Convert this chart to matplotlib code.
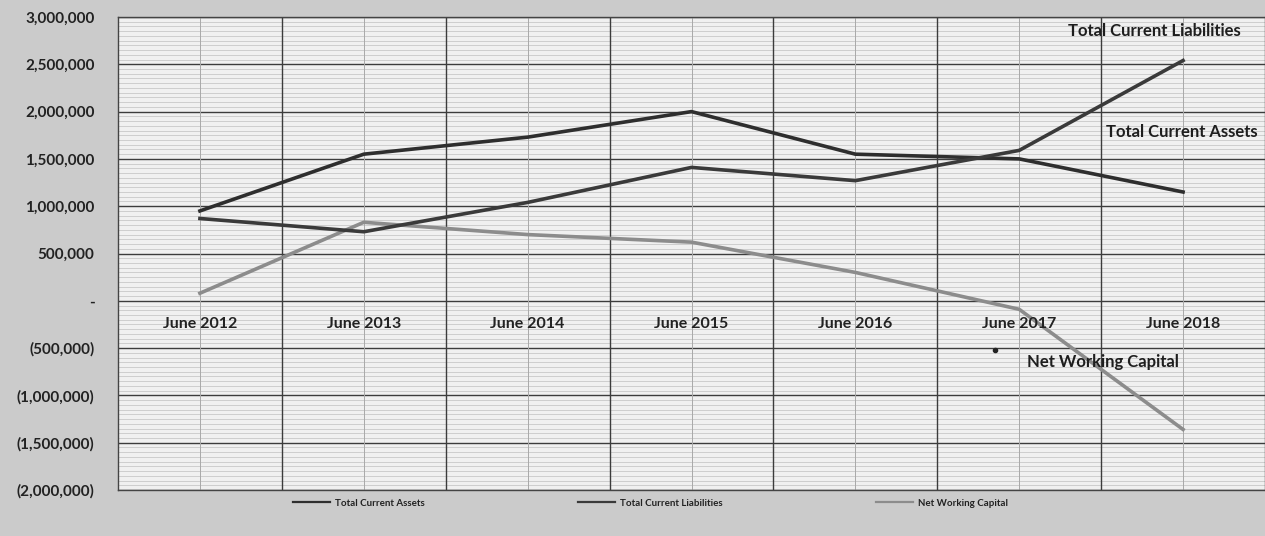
import matplotlib
matplotlib.use("Agg")
import matplotlib.pyplot as plt
from matplotlib.ticker import FixedLocator, MultipleLocator, FuncFormatter

# data
years = ["June 2012", "June 2013", "June 2014", "June 2015",
         "June 2016", "June 2017", "June 2018"]
current_assets = [950000, 1550000, 1730000, 2000000, 1550000, 1500000, 1150000]
current_liabilities = [870000, 730000, 1040000, 1410000, 1270000, 1590000, 2540000]
net_working_capital = [80000, 830000, 700000, 620000, 300000, -90000, -1360000]

plt.rcParams['font.family'] = ['Lato', 'DejaVu Sans']


def fmt_money(v, pos=None):
    if v == 0:
        return "-"
    if v < 0:
        return "({:,.0f})".format(-v)
    return "{:,.0f}".format(v)


fig = plt.figure(figsize=(12.65, 5.36), dpi=100, facecolor="#cbcbcb")
ax = fig.add_axes([118 / 1265, 1 - 490 / 536, 1 - 118 / 1265, (490 - 17) / 536])
ax.set_facecolor("#f0f0f0")

x = list(range(len(years)))
ax.plot(x, current_assets, color="#2e2e2e", lw=2.6, label="Total Current Assets", zorder=5)
ax.plot(x, current_liabilities, color="#3a3a3a", lw=2.6, label="Total Current Liabilities", zorder=5)
ax.plot(x, net_working_capital, color="#8c8c8c", lw=2.6, label="Net Working Capital", zorder=4)

ax.set_xlim(-0.5, len(years) - 0.5)
ax.set_ylim(-2000000, 3000000)

# grid: dark at 500k, faint every 50k; dark between categories, faint at centers
ax.yaxis.set_major_locator(MultipleLocator(500000))
ax.yaxis.set_minor_locator(MultipleLocator(50000))
ax.yaxis.set_major_formatter(FuncFormatter(fmt_money))
ax.xaxis.set_major_locator(FixedLocator([i + 0.5 for i in x[:-1]]))
ax.xaxis.set_minor_locator(FixedLocator(x))
ax.xaxis.set_major_formatter(FuncFormatter(lambda v, p: ""))
ax.grid(which="major", color="#3c3c3c", lw=1.0)
ax.grid(which="minor", axis="y", color="#c8c8c8", lw=0.6)
ax.grid(which="minor", axis="x", color="#a8a8a8", lw=0.7)
ax.set_axisbelow(True)
ax.xaxis.set_zorder(0.6)  # vertical lines over the faint horizontal ones
ax.tick_params(which="both", length=0)
ax.tick_params(axis="y", labelsize=11, pad=17)
for lab in ax.get_yticklabels():
    lab.set_fontweight("bold")
    lab.set_color("#222222")
for side in ["top", "left", "bottom", "right"]:
    ax.spines[side].set_color("#444444")
    ax.spines[side].set_linewidth(1.0)

# category labels sit just under the zero line, like Excel does
for i, name in enumerate(years):
    ax.text(i, -250000, name, ha="center", va="center", fontsize=11.5,
            fontweight="bold", color="#222222", zorder=6)

# series labels written on the chart
ax.text(5.3, 2850000, "Total Current Liabilities", fontsize=12, fontweight="bold",
        color="#1e1e1e", va="center", zorder=6)
ax.text(5.53, 1780000, "Total Current Assets", fontsize=12, fontweight="bold",
        color="#1e1e1e", va="center", zorder=6)
ax.text(5.05, -650000, "Net Working Capital", fontsize=12, fontweight="bold",
        color="#1e1e1e", va="center", zorder=6)
ax.plot([4.85], [-520000], "o", color="#222222", ms=3, zorder=6)

leg = fig.legend(loc="center left", bbox_to_anchor=(284 / 1265, 1 - 503 / 536), ncol=3,
                 frameon=False, handlelength=3.8, columnspacing=15.8, handletextpad=0.5,
                 prop={'weight': 'bold', 'size': 7})
for t in leg.get_texts():
    t.set_color("#222222")
for h in leg.get_lines():
    h.set_linewidth(1.6)

fig.savefig("out.png", dpi=100, facecolor=fig.get_facecolor())
